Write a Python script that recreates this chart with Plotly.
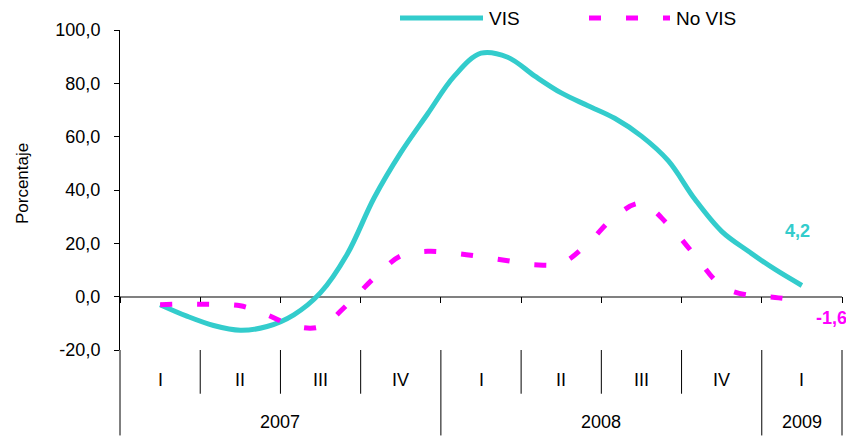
import plotly.graph_objects as go

# ---------------- data ----------------
MONTHS = ["2007-02", "2007-03", "2007-04", "2007-05", "2007-06", "2007-07", "2007-08",
          "2007-09", "2007-10", "2007-11", "2007-12", "2008-01", "2008-02", "2008-03",
          "2008-04", "2008-05", "2008-06", "2008-07", "2008-08", "2008-09", "2008-10",
          "2008-11", "2008-12", "2009-01", "2009-02"]
VIS = [-3.0, -7.3, -10.8, -12.6, -11.2, -6.8, 1.5, 16.0, 37.0, 54.0, 68.5, 82.7, 91.3,
       89.8, 82.8, 76.4, 71.6, 66.9, 60.2, 51.0, 36.5, 24.5, 17.0, 10.2, 4.2]
NO_VIS = [-3.0, -2.8, -2.9, -3.4, -6.8, -11.0, -11.2, -3.0, 7.0, 15.3, 17.0, 16.3, 15.0,
          13.5, 12.0, 12.5, 20.0, 30.0, 35.0, 27.0, 15.5, 4.0, 0.5, -0.3, -1.6]
QUARTERS = ["I", "II", "III", "IV", "I", "II", "III", "IV", "I"]
YEARS = ["2007", "2008", "2009"]
YEAR_QUARTERS = [4, 4, 1]
Y_TICKS = [-20, 0, 20, 40, 60, 80, 100]

# ---------------- geometry / style ----------------
OFF = 8  # default page body margin
W, H = 854 - OFF, 436 - OFF
ML, MR, MT, MB = 120 - OFF, 12, 28 - OFF, 86
PW, PH = W - ML - MR, H - MT - MB
FONT = "Liberation Sans, Arial, sans-serif"
C_VIS = "#33CCCC"
C_NOVIS = "#FF00FF"
NOVIS_DASH = "12px,25px"


def px_to_paper_y(py):
    # py given in screen pixels of the reference
    return (H + OFF - MB - py) / PH


def px_to_paper_x(px):
    return (px - OFF - ML) / PW


def month_pos(label):
    y, m = label.split("-")
    idx = (int(y) - 2007) * 12 + int(m)
    return (idx - 0.5) / 3.0  # in quarter units


def fmt(v):
    return f"{v:.1f}".replace(".", ",")


x = [month_pos(m) for m in MONTHS]
nq = len(QUARTERS)

fig = go.Figure()
fig.add_trace(go.Scatter(x=x, y=VIS, mode="lines", name="VIS",
                         line=dict(color=C_VIS, width=5, shape="spline"),
                         showlegend=False, hoverinfo="skip"))
fig.add_trace(go.Scatter(x=x, y=NO_VIS, mode="lines", name="No VIS",
                         line=dict(color=C_NOVIS, width=5, shape="spline", dash=NOVIS_DASH),
                         showlegend=False, hoverinfo="skip"))

shapes = []
annotations = []

# table: quarter separators and year separators
year_bounds = [0]
for c in YEAR_QUARTERS:
    year_bounds.append(year_bounds[-1] + c)
bottom_full = px_to_paper_y(436)
bottom_q = px_to_paper_y(394)
for k in range(nq + 1):
    full = k in year_bounds
    shapes.append(dict(type="line", xref="paper", yref="paper",
                       x0=k / nq, x1=k / nq, y0=0, y1=bottom_full if full else bottom_q,
                       line=dict(color="black", width=1)))

for i, q in enumerate(QUARTERS):
    annotations.append(dict(x=i + 0.5, xref="x", y=px_to_paper_y(380), yref="paper",
                            text=q, showarrow=False, yanchor="middle", xanchor="center",
                            font=dict(family=FONT, size=18, color="black")))
for i, yr in enumerate(YEARS):
    cx = (year_bounds[i] + year_bounds[i + 1]) / 2
    annotations.append(dict(x=cx, xref="x", y=px_to_paper_y(422), yref="paper",
                            text=yr, showarrow=False, yanchor="middle", xanchor="center",
                            font=dict(family=FONT, size=18, color="black")))

# y-axis title
annotations.append(dict(x=px_to_paper_x(22), xref="paper", y=px_to_paper_y(183), yref="paper",
                        text="Porcentaje", textangle=-90, showarrow=False,
                        xanchor="center", yanchor="middle",
                        font=dict(family=FONT, size=17, color="black")))

# end value labels
annotations.append(dict(x=x[-1], y=VIS[-1], xref="x", yref="y", text=f"<b>{fmt(VIS[-1])}</b>",
                        showarrow=False, xshift=-4, yshift=54,
                        font=dict(family=FONT, size=18, color=C_VIS)))
annotations.append(dict(x=x[-1], y=NO_VIS[-1], xref="x", yref="y", text=f"<b>{fmt(NO_VIS[-1])}</b>",
                        showarrow=False, xshift=30, yshift=-17,
                        font=dict(family=FONT, size=18, color=C_NOVIS)))

# manual legend
ly = px_to_paper_y(16)
shapes.append(dict(type="line", xref="paper", yref="paper",
                   x0=px_to_paper_x(400), x1=px_to_paper_x(483), y0=ly, y1=ly,
                   line=dict(color=C_VIS, width=5)))
annotations.append(dict(x=px_to_paper_x(487), y=ly, xref="paper", yref="paper", text="VIS",
                        xanchor="left", yanchor="middle", showarrow=False,
                        font=dict(family=FONT, size=19, color="black")))
shapes.append(dict(type="line", xref="paper", yref="paper",
                   x0=px_to_paper_x(589), x1=px_to_paper_x(670), y0=ly, y1=ly,
                   line=dict(color=C_NOVIS, width=5, dash=NOVIS_DASH)))
annotations.append(dict(x=px_to_paper_x(674), y=ly, xref="paper", yref="paper", text="No VIS",
                        xanchor="left", yanchor="middle", showarrow=False,
                        font=dict(family=FONT, size=19, color="black")))

fig.update_layout(
    width=W, height=H,
    margin=dict(l=ML, r=MR, t=MT, b=MB, pad=0),
    paper_bgcolor="white", plot_bgcolor="white",
    separators=",.",
    showlegend=False,
    shapes=shapes,
    annotations=annotations,
    xaxis=dict(range=[0, nq], anchor="free", position=(0 - Y_TICKS[0]) / (Y_TICKS[-1] - Y_TICKS[0]),
               showline=True, linecolor="#808080", linewidth=1.5,
               tickmode="array", tickvals=list(range(nq + 1)), ticks="outside",
               ticklen=6, tickcolor="black", tickwidth=1, showticklabels=False,
               showgrid=False, zeroline=False, layer="below traces", fixedrange=True),
    yaxis=dict(range=[Y_TICKS[0], Y_TICKS[-1]], tickmode="array", tickvals=Y_TICKS,
               ticktext=[fmt(v) for v in Y_TICKS], showline=True, linecolor="black", linewidth=1,
               ticks="outside", ticklen=5, tickcolor="black", ticklabelstandoff=10,
               tickfont=dict(family=FONT, size=18, color="black"),
               showgrid=False, zeroline=False, fixedrange=True),
)

fig.write_html("out.html")
